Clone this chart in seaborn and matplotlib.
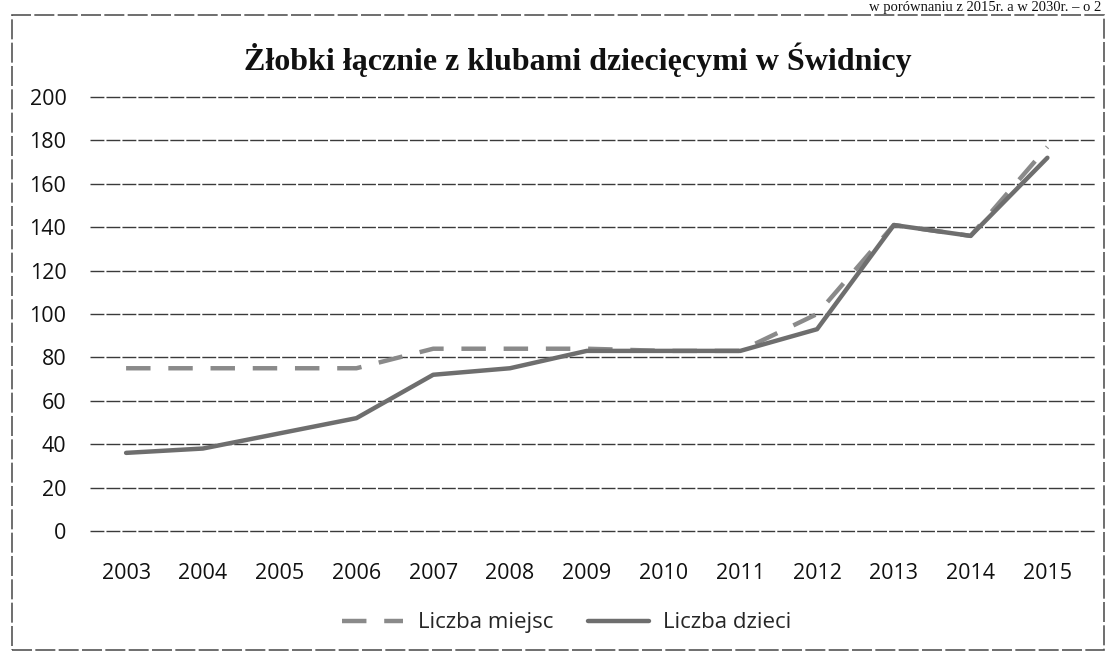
import matplotlib
matplotlib.use("Agg")
import matplotlib.pyplot as plt
import seaborn as sns
import pandas as pd
from matplotlib.patches import Rectangle

years = ["2003", "2004", "2005", "2006", "2007", "2008", "2009",
         "2010", "2011", "2012", "2013", "2014", "2015"]
liczba_miejsc = [75, 75, 75, 75, 84, 84, 84, 83, 83, 100, 141, 136, 177]
liczba_dzieci = [36, 38, 45, 52, 72, 75, 83, 83, 83, 93, 141, 136, 172]
y_ticks = [0, 20, 40, 60, 80, 100, 120, 140, 160, 180, 200]
title = "Żłobki łącznie z klubami dziecięcymi w Świdnicy"
series_names = ["Liczba miejsc", "Liczba dzieci"]
top_text = "w porównaniu z 2015r. a w 2030r. – o 2"

sns.set_theme(style="white")
plt.rcParams["font.family"] = ["Open Sans", "DejaVu Sans"]

df = pd.DataFrame({
    "x": list(range(len(years))) * 2,
    "value": liczba_miejsc + liczba_dzieci,
    "series": [series_names[0]] * len(years) + [series_names[1]] * len(years),
})

fig = plt.figure(figsize=(11.07, 6.57), dpi=100)
ax = fig.add_axes([90 / 1107, 1 - 531 / 657, (1095 - 90) / 1107, (531 - 97) / 657])

sns.lineplot(data=df, x="x", y="value", hue="series", style="series",
             palette={series_names[0]: "#8a8a8a", series_names[1]: "#6e6e6e"},
             dashes={series_names[0]: (5.5, 4), series_names[1]: ""},
             linewidth=3.2, ax=ax, legend=True, zorder=3)

ax.set_xlim(-0.47, 12.62)
ax.set_ylim(0, 200)
ax.set_xticks(range(len(years)))
ax.set_xticklabels(years)
ax.set_yticks(y_ticks)
ax.set_xlabel("")
ax.set_ylabel("")
for s in ax.spines.values():
    s.set_visible(False)
ax.grid(False)
for t in y_ticks:
    ax.axhline(t, color="#3a3a3a", lw=1.0, ls=(0, (10, 1.5)), zorder=1, clip_on=False)
ax.tick_params(axis="y", length=0, pad=17, labelsize=15.5, labelcolor="#111111")
ax.tick_params(axis="x", length=0, pad=23, labelsize=15.5, labelcolor="#111111")

handles, labels = ax.get_legend_handles_labels()
ax.legend(handles, labels, loc="center", bbox_to_anchor=(0.512, 0.052),
          bbox_transform=fig.transFigure, ncol=2, frameon=False,
          fontsize=16, handlelength=2.75, handletextpad=0.65,
          columnspacing=1.55)

fig.text(0.522, 1 - 60 / 657, title, ha="center", va="center",
         fontsize=23, fontweight="bold", family=["Liberation Serif", "DejaVu Serif"],
         color="#111111")

fig.text(0.995, 1 - 1 / 657, top_text, ha="right", va="top",
         fontsize=10.5, family=["Liberation Serif", "DejaVu Serif"], color="#111111")

fig.patches.append(Rectangle((12 / 1107, 1 - 650 / 657), (1104 - 12) / 1107,
                             (650 - 15) / 657, transform=fig.transFigure,
                             fill=False, edgecolor="#555555", lw=1.2,
                             ls=(0, (12, 2))))

fig.savefig("out.png", dpi=100, facecolor="white")
